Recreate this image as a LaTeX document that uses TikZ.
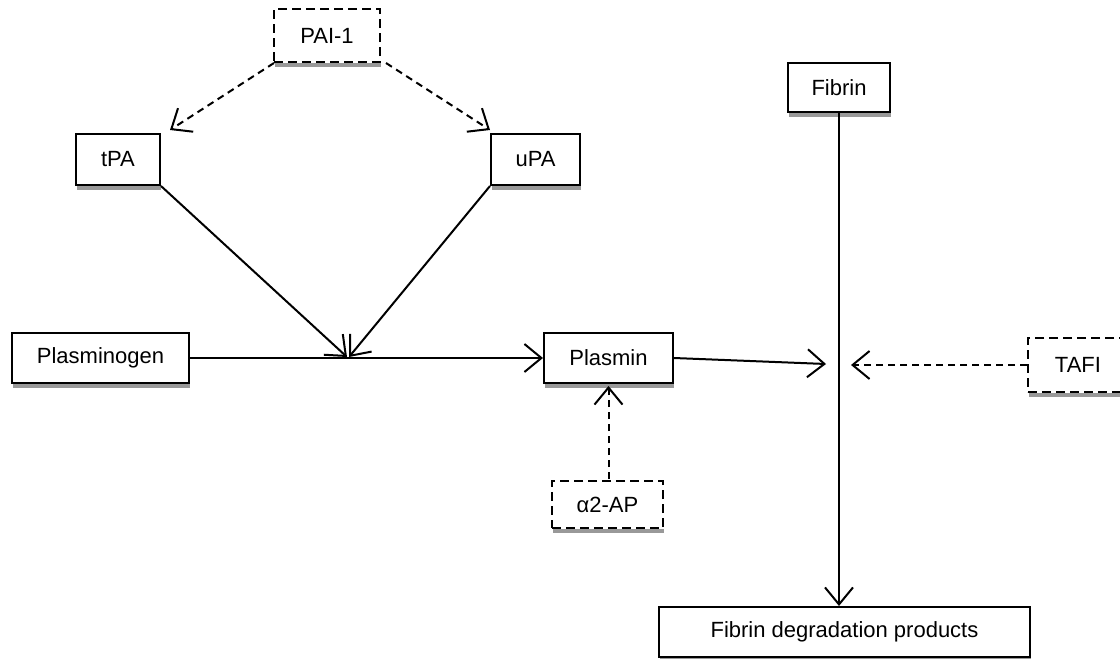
\documentclass[tikz,border=0pt]{standalone}
\usepackage{fontspec}
\setmainfont{Liberation Sans}
\usetikzlibrary{arrows.meta}
\definecolor{shadowgray}{gray}{0.6}
\tikzset{
  lw/.style={line width=2pt},
  box/.style={draw, lw, rectangle, fill=white, inner sep=0pt,
    font=\fontsize{22}{26}\selectfont},
  dbox/.style={box, dash pattern=on 9pt off 5pt},
  tip/.style={-{Straight Barb[length=17pt,width=28pt]}},
  conn/.style={lw, tip},
  dconn/.style={conn, dash pattern=on 7pt off 5pt},
}
\newcommand{\boxshadow}[1]{%
  \fill[shadowgray] ([xshift=2pt]#1.south west) rectangle ([yshift=-4pt]#1.south east);}
\begin{document}
\begin{tikzpicture}[x=1pt,y=-1pt]
\useasboundingbox (0,0) rectangle (1120,659);

% boxes
\node[dbox, minimum width=106pt, minimum height=53pt] (pai) at (327,35.5) {PAI-1};
\node[box, minimum width=84pt, minimum height=51pt] (tpa) at (118,159.5) {tPA};
\node[box, minimum width=89pt, minimum height=51pt] (upa) at (535.5,159.5) {uPA};
\node[box, minimum width=177pt, minimum height=50pt] (plg) at (100.5,358) {Plasminogen};
\node[box, minimum width=129pt, minimum height=50pt] (pls) at (608.5,358) {Plasmin};
\node[box, minimum width=102pt, minimum height=49pt] (fib) at (839,87.5) {Fibrin};
\node[dbox, minimum width=100pt, minimum height=54pt] (tafi) at (1078,365) {TAFI};
\node[dbox, minimum width=111pt, minimum height=47pt] (a2ap) at (607.5,504.5) {α2-AP};
\node[box, minimum width=371pt, minimum height=50pt] (fdp) at (844.5,632) {Fibrin degradation products};

\foreach \n in {pai,tpa,upa,plg,pls,fib,tafi,a2ap,fdp} {\boxshadow{\n}}

% arrow targets
\coordinate (tpaIn) at (170,130);
\coordinate (upaIn) at (490,130);
\coordinate (j) at (347,357);
\coordinate (hit) at (826,364);
\coordinate (tafiHit) at (851,365);

% PAI-1 inhibition
\draw[dconn] ([xshift=1pt]pai.south west) -- (tpaIn);
\draw[dconn] ([xshift=5pt]pai.south east) -- (upaIn);

% activators acting on the plasminogen conversion
\draw[conn] (tpa.south east) -- (j);
\draw[conn] (upa.south west) -- ([xshift=2pt]j);

\draw[conn] (plg.east) -- (pls.west);
\draw[conn] (pls.east) -- (hit);

% fibrin breakdown
\draw[conn] (fib.south) -- (fib.south |- fdp.north);

% inhibitors
\draw[dconn] (tafi.west) -- (tafiHit);
\draw[dconn] ([yshift=1pt]a2ap.north -| pls.south) -- ([yshift=-2pt]pls.south);
\end{tikzpicture}
\end{document}
